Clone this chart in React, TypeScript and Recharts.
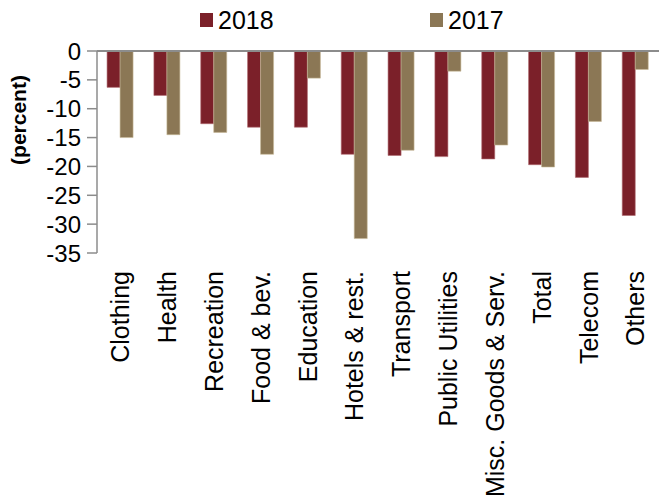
import React from 'react';
import { BarChart, Bar, XAxis, YAxis, ReferenceLine } from 'recharts';

const categories = [
  'Clothing', 'Health', 'Recreation', 'Food & bev.', 'Education', 'Hotels & rest.',
  'Transport', 'Public Utilities', 'Misc. Goods & Serv.', 'Total', 'Telecom', 'Others',
];
const values2018 = [-6.3, -7.7, -12.6, -13.2, -13.2, -17.9, -18.1, -18.3, -18.7, -19.7, -21.9, -28.5];
const values2017 = [-15.0, -14.5, -14.1, -17.9, -4.7, -32.5, -17.2, -3.5, -16.3, -20.1, -12.2, -3.2];
const yTicks = [0, -5, -10, -15, -20, -25, -30, -35];

const COLOR_2018 = '#7b2029';
const COLOR_2017 = '#8b7755';
const FONT = '"Liberation Sans", Arial, sans-serif';

const data = categories.map((name, i) => ({
  name,
  y2018: values2018[i],
  y2017: values2017[i],
}));

// rotated category labels hanging below the plot
const CategoryTick = (props: any) => {
  const { x, y, payload } = props;
  return (
    <text
      x={x}
      y={y + 18}
      transform={`rotate(-90, ${x}, ${y + 18})`}
      textAnchor="end"
      dy="0.35em"
      fontSize={25}
      fontFamily={FONT}
      fill="#000"
    >
      {payload.value}
    </text>
  );
};

const legendItems = [
  { label: '2018', color: COLOR_2018, left: 200 },
  { label: '2017', color: COLOR_2017, left: 430 },
];

export default function App() {
  return (
    <div style={{ position: 'absolute', left: 0, top: 0, width: 659, height: 502, background: '#fff' }}>
      <BarChart
        width={659}
        height={502}
        data={data}
        margin={{ top: 51, right: 0, bottom: 219, left: 0 }}
        barCategoryGap="21.5%"
        barGap={0}
      >
        <XAxis
          dataKey="name"
          height={30}
          axisLine={false}
          tickLine={false}
          tickSize={0}
          tickMargin={0}
          interval={0}
          tick={<CategoryTick />}
        />
        <YAxis
          width={97}
          domain={[-35, 0]}
          ticks={yTicks}
          interval={0}
          axisLine={{ stroke: '#8c8c8c', strokeWidth: 1.5 }}
          tickLine={{ stroke: '#8c8c8c', strokeWidth: 1.5 }}
          tickSize={10}
          tickMargin={6}
          tick={{ fontSize: 24, fontFamily: FONT, fill: '#000' }}
          label={{
            value: '(percent)',
            angle: -90,
            position: 'insideLeft',
            dx: 14,
            dy: -32,
            style: { fontSize: 21, fontWeight: 'bold', fontFamily: FONT, fill: '#000', textAnchor: 'middle' },
          }}
        />
        <Bar dataKey="y2018" name="2018" fill={COLOR_2018} stroke="#b06a70" strokeWidth={0.6} isAnimationActive={false} />
        <Bar dataKey="y2017" name="2017" fill={COLOR_2017} stroke="#c8b998" strokeWidth={0.6} isAnimationActive={false} />
        <ReferenceLine y={0} stroke="#8c8c8c" strokeWidth={2} ifOverflow="extendDomain" />
      </BarChart>
      {legendItems.map((item) => (
        <div
          key={item.label}
          style={{
            position: 'absolute', left: item.left, top: 5, display: 'flex', alignItems: 'center',
            fontFamily: FONT, fontSize: 25, lineHeight: '30px',
          }}
        >
          <span style={{ width: 13, height: 14, background: item.color, display: 'inline-block', marginRight: 5 }} />
          <span>{item.label}</span>
        </div>
      ))}
    </div>
  );
}
